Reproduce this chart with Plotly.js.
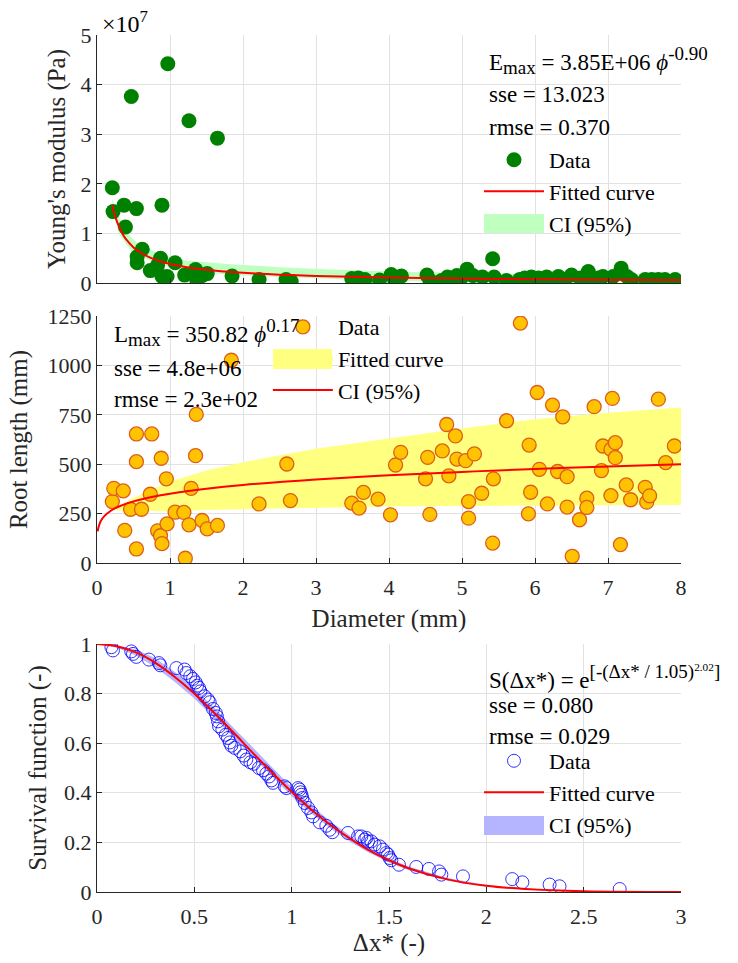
<!DOCTYPE html>
<html><head><meta charset="utf-8">
<script src="https://cdn.plot.ly/plotly-3.0.1.min.js"></script>
<style>body{margin:0;background:#fff}#chart{width:738px;height:963px}</style>
</head><body><div id="chart"></div>
<script>
// ---------- Panel 1: Young's modulus (values in 10^7 Pa) ----------
const topX = [0.21,0.22,0.37,0.39,0.47,0.54,0.55,0.55,0.62,0.73,0.83,0.87,0.89,0.89,0.96,0.97,1.07,1.20,1.26,1.35,1.37,1.45,1.51,1.65,1.85,2.22,2.59,2.66,3.49,3.58,3.67,3.87,4.03,4.08,4.17,4.52,4.56,4.72,4.80,4.86,4.93,5.00,5.07,5.15,5.28,5.42,5.44,5.61,5.79,5.86,5.95,6.05,6.16,6.24,6.32,6.41,6.50,6.62,6.73,6.80,6.87,6.93,7.07,7.18,7.26,7.32,7.51,7.60,7.69,7.78,7.92];
const topE = [1.92,1.44,1.57,1.13,3.76,1.50,0.53,0.41,0.68,0.25,0.36,0.50,1.57,0.13,0.13,4.42,0.41,0.16,3.27,0.27,0.03,0.16,0.19,2.92,0.14,0.07,0.07,0.03,0.09,0.10,0.07,0.06,0.17,0.05,0.14,0.16,0.05,0.05,0.12,0.09,0.15,0.12,0.28,0.15,0.12,0.49,0.12,0.05,0.07,0.10,0.12,0.10,0.12,0.03,0.13,0.07,0.16,0.10,0.23,0.03,0.10,0.13,0.13,0.30,0.13,0.07,0.07,0.07,0.07,0.07,0.07];
const topFitX = [0.21,0.25,0.3,0.35,0.4,0.5,0.6,0.7,0.8,0.9,1,1.25,1.5,1.75,2,2.5,3,4,5,6,7,8];
const topFitY = [1.57,1.34,1.14,0.990,0.878,0.718,0.610,0.531,0.471,0.423,0.385,0.315,0.267,0.233,0.206,0.169,0.143,0.111,0.090,0.077,0.067,0.059];
const topBandX = [0.21,0.3,0.46,0.6,0.91,1.2,1.5,1.83,2.5,3.2,4,5,6,7,8];
const topBandHi = [1.70,1.30,0.93,0.75,0.56,0.46,0.42,0.38,0.32,0.27,0.23,0.20,0.18,0.17,0.16];
const topBandLo = [1.45,1.00,0.66,0.52,0.36,0.27,0.21,0.16,0.12,0.08,0.04,0.03,0.02,0.015,0.01];
const topYTicks = [0,1,2,3,4,5];

// ---------- Panel 2: Root length ----------
const midX = [0.21,0.23,0.36,0.38,0.46,0.54,0.54,0.54,0.61,0.75,0.73,0.83,0.87,0.89,0.88,0.95,0.96,1.07,1.19,1.21,1.26,1.29,1.35,1.36,1.44,1.51,1.65,1.84,2.22,2.60,2.65,3.49,3.59,3.65,3.85,4.02,4.09,4.16,4.50,4.53,4.56,4.73,4.79,4.82,4.91,4.93,5.05,5.09,5.09,5.17,5.27,5.43,5.42,5.61,5.80,5.91,5.92,5.94,6.03,6.06,6.17,6.24,6.31,6.38,6.44,6.44,6.51,6.61,6.71,6.71,6.81,6.91,6.93,7.04,7.04,7.06,7.10,7.10,7.17,7.25,7.31,7.51,7.53,7.57,7.69,7.79,7.91];
const midL = [311,378,365,165,272,653,513,71,272,653,348,163,138,98,530,426,198,257,256,24,193,378,543,752,215,173,190,1026,299,501,316,303,278,357,323,244,496,560,426,535,246,567,701,441,643,526,518,311,227,552,353,426,101,720,1214,249,597,358,863,474,299,799,463,740,437,283,34,219,328,281,791,468,592,575,341,833,609,533,93,395,320,383,308,340,829,508,592];
const midFitX = [0.01,0.02,0.05,0.1,0.2,0.3,0.5,0.75,1,1.5,2,3,4,5,6,7,8];
const midFitY = [160,180,211,237,267,286,312,334,351,376,395,423,444,461,476,488,500];
const midBandX = [0.2,0.3,0.45,0.7,1,1.5,2,2.36,3,4,5,6,7,8];
const midBandHi = [269,290,320,365,412,468,510,535,578,630,681,728,760,787];
const midBandLo = [269,266,266,263,262,268,272,276,280,286,289,291,293,294];

// ---------- Panel 3: Survival function ----------
const botX = [0.074,0.082,0.176,0.185,0.202,0.267,0.318,0.325,0.408,0.450,0.459,0.479,0.493,0.507,0.514,0.524,0.531,0.553,0.570,0.579,0.596,0.610,0.616,0.622,0.627,0.644,0.661,0.673,0.682,0.690,0.707,0.736,0.753,0.767,0.788,0.805,0.832,0.853,0.870,0.884,0.896,0.904,0.964,0.973,1.033,1.041,1.045,1.050,1.055,1.067,1.084,1.101,1.110,1.144,1.178,1.195,1.209,1.289,1.341,1.358,1.375,1.384,1.392,1.409,1.426,1.452,1.469,1.486,1.495,1.503,1.512,1.551,1.640,1.705,1.757,1.769,1.880,2.133,2.185,2.325,2.376,2.685];
const botS = [0.987,0.974,0.970,0.960,0.948,0.937,0.923,0.914,0.903,0.897,0.883,0.870,0.859,0.845,0.832,0.823,0.809,0.789,0.776,0.765,0.738,0.722,0.708,0.688,0.668,0.655,0.634,0.621,0.603,0.590,0.581,0.567,0.550,0.534,0.523,0.517,0.500,0.491,0.477,0.466,0.450,0.440,0.426,0.419,0.419,0.413,0.402,0.392,0.379,0.359,0.339,0.321,0.305,0.281,0.267,0.251,0.241,0.238,0.224,0.224,0.211,0.218,0.204,0.204,0.191,0.184,0.171,0.157,0.151,0.137,0.128,0.110,0.101,0.093,0.083,0.070,0.063,0.052,0.039,0.030,0.023,0.012];
const botFitX = [0,0.1,0.2,0.3,0.4,0.5,0.6,0.7,0.8,0.9,1.0,1.1,1.2,1.3,1.4,1.5,1.6,1.8,2.0,2.2,2.5,3.0];
const botFitY = [1,0.991,0.966,0.924,0.867,0.800,0.724,0.644,0.561,0.481,0.404,0.333,0.270,0.215,0.167,0.128,0.096,0.051,0.025,0.012,0.003,0.000];
const botBandHi = [1,0.996,0.978,0.942,0.887,0.820,0.744,0.663,0.580,0.499,0.422,0.349,0.284,0.227,0.177,0.136,0.103,0.056,0.028,0.014,0.004,0.000];
const botBandLo = [1,0.986,0.954,0.906,0.847,0.780,0.704,0.625,0.542,0.463,0.386,0.317,0.256,0.203,0.157,0.120,0.089,0.046,0.022,0.010,0.002,0.000];

const FONT = 'Liberation Serif';
const TXT = '#000000';
const AX = '#262626';
const GREEN_BAND = 'rgb(191,255,191)';
const YELLOW_BAND = 'rgb(255,255,128)';
const BLUE_BAND = 'rgb(180,180,255)';

const traces = [
  // top
  {x: topBandX, y: topBandLo, xaxis:'x', yaxis:'y', mode:'lines', line:{width:0}, showlegend:false, hoverinfo:'skip', legend:'legend'},
  {x: topBandX, y: topBandHi, xaxis:'x', yaxis:'y', mode:'lines', line:{width:0}, fill:'tonexty', fillcolor:GREEN_BAND, name:'CI (95%)', legendrank:3, legend:'legend'},
  {x: topX, y: topE, xaxis:'x', yaxis:'y', mode:'markers', marker:{color:'rgb(0,128,0)', size:15}, name:'Data', legendrank:1, legend:'legend'},
  {x: topFitX, y: topFitY, xaxis:'x', yaxis:'y', mode:'lines', line:{color:'rgb(255,0,0)', width:2, shape:'spline'}, name:'Fitted curve', legendrank:2, legend:'legend'},
  // middle
  {x: midBandX, y: midBandLo, xaxis:'x2', yaxis:'y2', mode:'lines', line:{width:0}, showlegend:false, hoverinfo:'skip', legend:'legend2'},
  {x: midBandX, y: midBandHi, xaxis:'x2', yaxis:'y2', mode:'lines', line:{width:0}, fill:'tonexty', fillcolor:YELLOW_BAND, name:'Fitted curve', legendrank:2, legend:'legend2'},
  {x: midX, y: midL, xaxis:'x2', yaxis:'y2', mode:'markers', marker:{color:'rgb(255,195,0)', size:14, line:{color:'rgb(220,95,25)', width:1.3}}, name:'Data', legendrank:1, legend:'legend2'},
  {x: midFitX, y: midFitY, xaxis:'x2', yaxis:'y2', mode:'lines', line:{color:'rgb(255,0,0)', width:2, shape:'spline'}, name:'CI (95%)', legendrank:3, legend:'legend2'},
  // bottom
  {x: botFitX, y: botBandLo, xaxis:'x3', yaxis:'y3', mode:'lines', line:{width:0}, showlegend:false, hoverinfo:'skip', legend:'legend3'},
  {x: botFitX, y: botBandHi, xaxis:'x3', yaxis:'y3', mode:'lines', line:{width:0}, fill:'tonexty', fillcolor:BLUE_BAND, name:'CI (95%)', legendrank:3, legend:'legend3'},
  {x: botX, y: botS, xaxis:'x3', yaxis:'y3', mode:'markers', marker:{symbol:'circle-open', color:'rgba(0,0,255,0.8)', size:13, line:{width:1}}, name:'Data', legendrank:1, legend:'legend3'},
  {x: botFitX, y: botFitY, xaxis:'x3', yaxis:'y3', mode:'lines', line:{color:'rgb(255,0,0)', width:2, shape:'spline'}, name:'Fitted curve', legendrank:2, legend:'legend3'}
];

function ax(extra) {
  return Object.assign({
    showline:true, linecolor:AX, linewidth:1, mirror:false,
    ticks:'inside', ticklen:5, tickcolor:AX, tickwidth:1,
    showgrid:true, gridcolor:'#e2e2e2', gridwidth:1, zeroline:false,
    tickfont:{family:FONT, size:22, color:AX}, fixedrange:true
  }, extra);
}
function ttl(text, standoff) {
  return {text:text, standoff:standoff, font:{family:FONT, size:25, color:AX}};
}

const legendBase = {bgcolor:'rgba(0,0,0,0)', borderwidth:0, font:{family:FONT, size:22, color:TXT}, xanchor:'left', yanchor:'top', traceorder:'normal', tracegroupgap:0, itemwidth:60};

function ann(text, x, y, size) {
  return {text:text, xref:'paper', yref:'paper', x:x, y:y, xanchor:'left', yanchor:'middle', showarrow:false, font:{family:FONT, size:size||23, color:TXT}};
}
// paper coordinates from pixel positions (plot area: x 97..681, y 35..892)
const PX = p => (p - 97) / 584;
const PY = p => (892 - p) / 857;
function patch(x0, x1, y0, y1, color) {
  return {type:'rect', xref:'paper', yref:'paper', x0:PX(x0), x1:PX(x1), y0:PY(y1), y1:PY(y0), fillcolor:color, line:{width:0}, layer:'above'};
}
const S = t => '<span style="font-size:19px">' + t + '</span>';

const layout = {
  width:738, height:963,
  margin:{l:97, r:57, t:35, b:71},
  paper_bgcolor:'#ffffff', plot_bgcolor:'#ffffff',
  font:{family:FONT, color:TXT},
  xaxis: ax({domain:[0,1], range:[0,8], anchor:'y', tickvals:[0,1,2,3,4,5,6,7,8], showticklabels:false}),
  yaxis: ax({domain:[0.7106,1], range:[0,5], anchor:'x', tickvals:topYTicks, ticktext:topYTicks.map(String),
            automargin:true, title:ttl("Young's modulus (Pa)", 7)}),
  xaxis2: ax({domain:[0,1], range:[0,8], anchor:'y2', dtick:1, tick0:0, ticklabelstandoff:5,
            automargin:true, title:ttl('Diameter (mm)', 10)}),
  yaxis2: ax({domain:[0.3839,0.6721], range:[0,1250], anchor:'x2', dtick:250, tick0:0,
            automargin:true, title:ttl('Root length (mm)', 12)}),
  xaxis3: ax({domain:[0,1], range:[0,3], anchor:'y3', dtick:0.5, tick0:0, ticklabelstandoff:5,
            automargin:true, title:ttl('Δx* (-)', 2)}),
  yaxis3: ax({domain:[0,0.2894], range:[0,1], anchor:'x3', dtick:0.2, tick0:0,
            automargin:true, title:ttl('Survival function (-)', 10)}),
  legend: Object.assign({}, legendBase, {x:0.6541, y:0.8787}),
  legend2: Object.assign({}, legendBase, {x:0.2926, y:0.6838}),
  legend3: Object.assign({}, legendBase, {x:0.6541, y:0.1774}),
  shapes: [
    patch(484, 544, 214, 233, GREEN_BAND),
    patch(273, 332, 349, 369, YELLOW_BAND),
    patch(484, 544, 816, 835, BLUE_BAND)
  ],
  annotations: [
    ann('×10<sup>7</sup>', 0.0051, 1.0152, 24),
    ann('E<sub>' + S('max') + '</sub> = 3.85E+06 <i>ϕ</i><sup>' + S('-0.90') + '</sup>', 0.6678, 0.9708),
    ann('sse = 13.023', 0.6678, 0.930),
    ann('rmse = 0.370', 0.6678, 0.8926),
    ann('L<sub>' + S('max') + '</sub> = 350.82 <i>ϕ</i><sup>' + S('0.17') + '</sup>', 0.0257, 0.6534),
    ann('sse = 4.8e+06', 0.0257, 0.6114),
    ann('rmse = 2.3e+02', 0.0257, 0.5741),
    ann('S(Δx*) = e<sup>' + S('[-(Δx* / 1.05)') + '<sup>2.02</sup>' + S(']') + '</sup>', 0.6678, 0.2509),
    ann('sse = 0.080', 0.6678, 0.2182),
    ann('rmse = 0.029', 0.6678, 0.1809)
  ],
  showlegend:true
};

Plotly.newPlot('chart', traces, layout, {displayModeBar:false, staticPlot:true});
</script></body></html>
